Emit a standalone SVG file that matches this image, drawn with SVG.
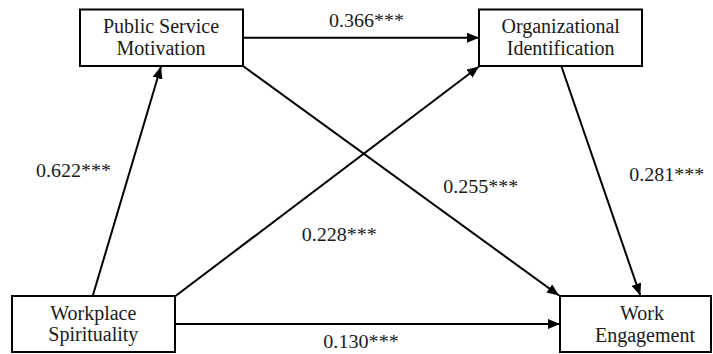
<svg xmlns="http://www.w3.org/2000/svg" width="713" height="354" viewBox="0 0 713 354">
<defs>
<marker id="arr" markerUnits="userSpaceOnUse" markerWidth="12" markerHeight="10" refX="12" refY="5" orient="auto">
<path d="M0,0 L12,5 L0,10 Z" fill="#000"/>
</marker>
<style>
.box{fill:#fff;stroke:#000;stroke-width:2}
text{font-family:'Liberation Serif','Times New Roman','DejaVu Serif',serif;fill:#1a1a1a}
.t{font-size:20px;text-anchor:middle}
.l{font-size:18px}
.c{stroke:#000;stroke-width:2;fill:none;marker-end:url(#arr)}
</style>
</defs>
<rect width="713" height="354" fill="#fff"/>
<g id="connectors">
<line class="c" x1="243" y1="37.7" x2="479" y2="37.7"/>
<line class="c" x1="92.7" y1="296" x2="161" y2="66.5"/>
<line class="c" x1="175.5" y1="296" x2="479" y2="66.5"/>
<line class="c" x1="243" y1="66" x2="559" y2="295.5"/>
<line class="c" x1="561.3" y1="66" x2="640.3" y2="295.5"/>
<line class="c" x1="175" y1="324" x2="560" y2="324"/>
</g>
<g id="labels">
<text class="l" x="329" y="27" textLength="75" lengthAdjust="spacingAndGlyphs">0.366***</text>
<text class="l" x="36" y="176.7" textLength="75" lengthAdjust="spacingAndGlyphs">0.622***</text>
<text class="l" x="443.3" y="192.7" textLength="75" lengthAdjust="spacingAndGlyphs">0.255***</text>
<text class="l" x="629.3" y="180.7" textLength="75" lengthAdjust="spacingAndGlyphs">0.281***</text>
<text class="l" x="301.7" y="241" textLength="75" lengthAdjust="spacingAndGlyphs">0.228***</text>
<text class="l" x="323.3" y="348" textLength="75.5" lengthAdjust="spacingAndGlyphs">0.130***</text>
</g>
<g id="psm">
<rect class="box" x="80" y="9.5" width="163" height="56.5"/>
<text class="t" x="161" y="33">Public Service</text>
<text class="t" x="161" y="55">Motivation</text>
</g>
<g id="oi">
<rect class="box" x="479" y="9.5" width="163" height="56.5"/>
<text class="t" x="560.7" y="33">Organizational</text>
<text class="t" x="560.7" y="55">Identification</text>
</g>
<g id="ws">
<rect class="box" x="12" y="296" width="163" height="56"/>
<text class="t" x="93.3" y="319.7">Workplace</text>
<text class="t" x="93.3" y="341">Spirituality</text>
</g>
<g id="we">
<rect class="box" x="560" y="296" width="151" height="56"/>
<text class="t" x="642" y="319.7">Work</text>
<text class="t" x="645" y="342">Engagement</text>
</g>
</svg>
